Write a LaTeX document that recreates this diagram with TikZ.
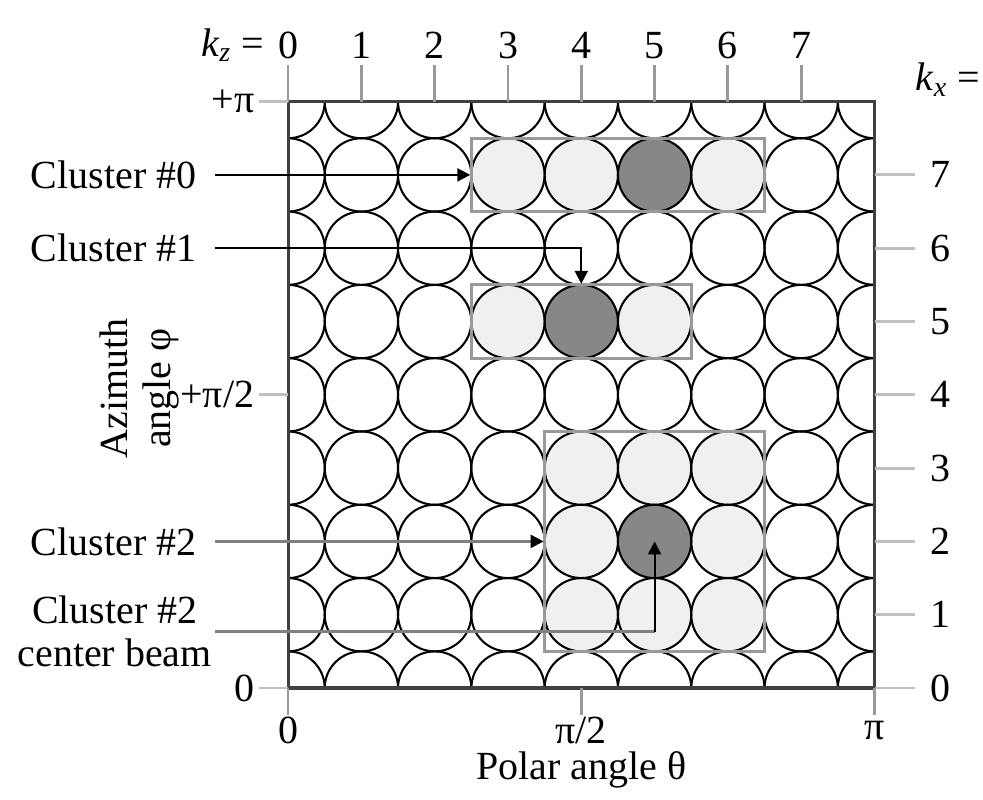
\documentclass[tikz,border=0pt]{standalone}
\usepackage{fontspec}
\setmainfont{Liberation Serif}
\usetikzlibrary{arrows.meta}

\begin{document}
\begin{tikzpicture}[
    >={Triangle[length=5pt,width=5pt]},
    font=\fontsize{15.5}{16.5}\selectfont,
    % Styles for beams, clusters and leaders
    beam/.style={circle, draw=black, line width=0.8pt, minimum size=1cm, inner sep=0pt},
    lit/.style={fill=black!6},
    peak/.style={fill=black!47},
    cluster/.style={draw=black!40, line width=1.1pt},
    lead/.style={draw=black, line width=0.8pt},
    leadgray/.style={draw=black!50, line width=1pt},
    tick/.style={draw=black!40, line width=1.1pt},
    lab/.style={anchor=east, inner xsep=7pt}
]
  \useasboundingbox (-3.93,-1.514) rectangle (9.48,9.386);

  % --- BEAM GRID ---
  \begin{scope}
    \clip (0,0) rectangle (8,8);
    \foreach \i/\j in {3/7,4/7,6/7,3/5,5/5,4/1,5/1,6/1,4/2,6/2,4/3,5/3,6/3}
      \fill[lit] (\i,\j) circle (0.5);
    \foreach \i/\j in {5/7,4/5,5/2}
      \fill[peak] (\i,\j) circle (0.5);
    \foreach \i in {0,...,8}
      \foreach \j in {0,...,8}
        \node[beam] (b\i\j) at (\i,\j) {};
  \end{scope}
  \draw[black!75, line width=1.2pt] (0,0) rectangle (8,8);

  % --- CLUSTER BOXES ---
  \draw[cluster] (2.5,6.5) rectangle (6.5,7.5);
  \draw[cluster] (2.5,4.5) rectangle (5.5,5.5);
  \draw[cluster] (3.5,0.5) rectangle (6.5,3.5);

  % --- AXES ---
  \foreach \k in {0,...,7} {
    \draw[tick] (\k,8) -- (\k,8.5);
    \node (kz\k) at (\k,8.77) {\k};
    \draw[tick, draw=black!25] (8,\k) -- (8.55,\k);
    \node (kx\k) at (8.9,\k) {\k};
  }
  \node[anchor=east, inner sep=0pt] (kzlab) at (-0.32,8.77) {\textit{k}\textsubscript{\textit{z}} =};
  \node (kxlab) at (9.0,8.3) {\textit{k}\textsubscript{\textit{x}} =};

  \foreach \y/\t in {0/0, 4/{+π/2}, 8/{+π}} {
    \draw[tick, draw=black!25] (-0.4,\y) -- (0,\y);
    \node[anchor=east, inner sep=1pt] (phi\y) at (-0.42,\y) {\t};
  }
  \foreach \x/\t in {0/0, 4/{π/2}, 8/π} {
    \draw[tick] (\x,0) -- (\x,-0.37);
    \node (th\x) at (\x,-0.58) {\t};
  }
  \node (polar) at (4,-1.12) {Polar angle θ};
  \node[rotate=90, align=center] (azim) at (-2.03,4.09) {Azimuth\\angle φ};

  % --- CLUSTER LABELS ---
  \node[lab] (clu0) at (-1,7) {Cluster \#0};
  \node[lab] (clu1) at (-1,6) {Cluster \#1};
  \node[lab] (clu2) at (-1,2) {Cluster \#2};
  \node[lab, align=center, inner xsep=1pt] (clu2c) at (-1,0.77) {Cluster \#2\\center beam};

  % --- LEADERS ---
  \draw[lead, ->] (clu0.east) -- (b37.west);
  \draw[lead, ->] (clu1.east) -| (b45.north);
  \draw[leadgray, -{Triangle[length=5pt,width=5pt,color=black]}] (clu2.east) -- (b42.west);
  \coordinate (bend) at (b52 |- clu2c.east);
  \draw[leadgray] (clu2c.east) -- (bend);
  \draw[lead, ->] (bend) -- (b52.center);

\end{tikzpicture}
\end{document}
